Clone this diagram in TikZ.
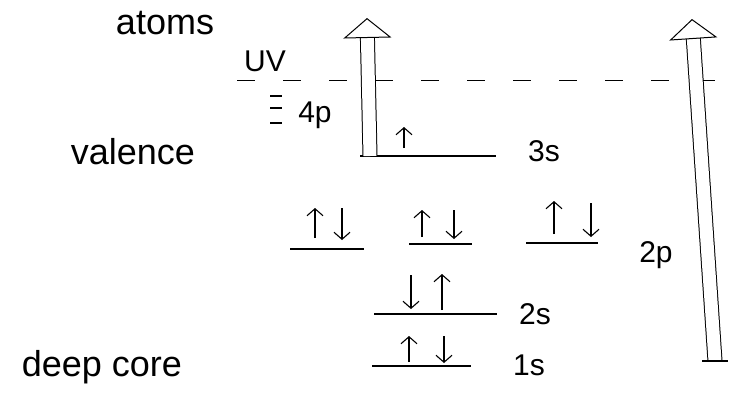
\documentclass[tikz,border=0pt]{standalone}
\usepackage{fontspec}
\setmainfont{Liberation Sans}
\usetikzlibrary{arrows.meta, positioning}

\begin{document}
\begin{tikzpicture}[x=1pt, y=-1pt,
  lvl/.style={line width=1.1pt},
  spin/.style={line width=1.1pt, -{Straight Barb[length=7pt, width=16pt]}},
  lbl/.style={font=\fontsize{30}{34}\selectfont, inner sep=0pt},
  word/.style={font=\fontsize{36}{40}\selectfont, inner sep=0pt},
  exc/.style={double, double distance=13pt, line width=1pt, -{Triangle[open, length=20pt, width=48pt]}},
  vac/.style={line width=1pt, dash pattern=on 18pt off 28pt}
]
\useasboundingbox (0,0) rectangle (748,392);

\node[word] (atoms) at (165,23) {atoms};
\node[lbl]  (uv)    at (265,61) {UV};
\node[lbl]  (l4p)   at (315,115) {4p};
\node[word] (val)   at (133,152) {valence};
\node[word] (core)  at (102,367) {deep core};
\node[lbl]  (l3s)   at (544,151) {3s};
\node[lbl]  (l2p)   at (656,255) {2p};
\node[lbl]  (l2s)   at (535,314) {2s};
\node[lbl]  (l1s)   at (529,365) {1s};

\coordinate (vacA) at (237,80);
\coordinate (vacB) at (716,80);
\draw[vac] (vacA) -- (vacB);

\foreach \y in {96,108,123}
  \draw[lvl] (270,\y) -- (282,\y);

\coordinate (s3a) at (360,156); \coordinate (s3b) at (496,156);
\coordinate (p1a) at (290,249); \coordinate (p1b) at (364,249);
\coordinate (p2a) at (409,244); \coordinate (p2b) at (472,244);
\coordinate (p3a) at (526,243); \coordinate (p3b) at (598,243);
\coordinate (s2a) at (374,314); \coordinate (s2b) at (497,314);
\coordinate (s1a) at (372,366); \coordinate (s1b) at (471,366);
\draw[lvl] (s3a) -- (s3b);
\draw[lvl] (p1a) -- (p1b);
\draw[lvl] (p2a) -- (p2b);
\draw[lvl] (p3a) -- (p3b);
\draw[lvl] (s2a) -- (s2b);
\draw[lvl] (s1a) -- (s1b);

\draw[spin] (404,148) -- (404,127);
\draw[spin] (315,238) -- (315,208);
\draw[spin] (342,208) -- (342,240);
\draw[spin] (422,237) -- (422,210);
\draw[spin] (454,210) -- (454,239);
\draw[spin] (554,234) -- (554,201);
\draw[spin] (591,203) -- (591,237);
\draw[spin] (411,275) -- (411,309);
\draw[spin] (442,310) -- (442,274);
\draw[spin] (409,362) -- (409,336);
\draw[spin] (444,336) -- (444,363);

\coordinate (ion1) at (370,156);
\coordinate (top1) at (367,18);
\coordinate (ion2) at (715,361);
\coordinate (top2) at (692,19);
\draw[exc] (ion1) -- (top1);
\draw[exc] (ion2) -- (top2);
\draw[lvl] ([xshift=-13pt]ion2) -- ([xshift=13pt]ion2);
\end{tikzpicture}
\end{document}
